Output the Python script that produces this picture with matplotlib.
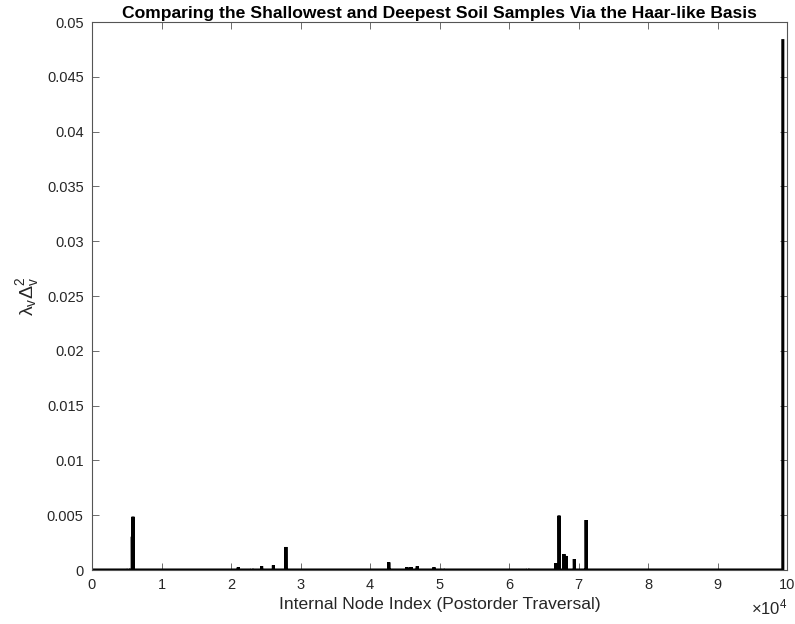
import numpy as np
import matplotlib
matplotlib.use("Agg")
import matplotlib.pyplot as plt
from matplotlib.ticker import FuncFormatter

# Data (node index, lambda_v * Delta_v^2)
n_nodes = 99400
spike_index = [5200, 5800, 5900, 21050, 23000, 24400, 26100, 27900,
               42700, 45300, 45900, 46800, 49200, 50500, 62700,
               66700, 67200, 67900, 68200, 69400, 71100, 99400]
spike_value = [0.0001, 0.00304, 0.00486, 0.00025, 0.0001, 0.00036, 0.00043, 0.0021,
               0.0007, 0.00027, 0.00027, 0.00034, 0.00025, 0.0001, 0.0001,
               0.0006, 0.00496, 0.00146, 0.00128, 0.001, 0.00456, 0.0483]

x_ticks = [0, 10000, 20000, 30000, 40000, 50000, 60000, 70000, 80000, 90000, 100000]
y_ticks = [0, 0.005, 0.01, 0.015, 0.02, 0.025, 0.03, 0.035, 0.04, 0.045, 0.05]

x = np.arange(1, n_nodes + 1)
y = np.zeros(n_nodes)
y[np.array(spike_index) - 1] = spike_value

plt.rcParams['font.family'] = ['Liberation Sans', 'DejaVu Sans']
plt.rcParams['mathtext.fontset'] = 'custom'
plt.rcParams['mathtext.rm'] = 'Liberation Sans'
plt.rcParams['mathtext.it'] = 'Liberation Sans'
plt.rcParams['mathtext.default'] = 'regular'

fig = plt.figure(figsize=(7.95, 6.24), dpi=100)
ax = fig.add_axes([92/795, 54/624, 695/795, 548/624])

ax.plot(x, y, color='black', lw=2.2, solid_joinstyle='miter')

ax.set_xlim(0, 100000)
ax.set_ylim(0, 0.05)
ax.set_xticks(x_ticks)
ax.set_yticks(y_ticks)
ax.xaxis.set_major_formatter(FuncFormatter(lambda v, p: f'{v/1e4:g}'))
ax.yaxis.set_major_formatter(FuncFormatter(lambda v, p: f'{v:g}'))

axis_col = '#262626'
for s in ax.spines.values():
    s.set_color('#555555')
    s.set_linewidth(0.8)
ax.tick_params(direction='in', length=5, width=0.6, colors='#555555',
               labelcolor=axis_col, labelsize=10.5, top=True, right=True, pad=6)

ax.text(1.0, -0.05, '\u00d710$^{4}$', transform=ax.transAxes, ha='right', va='top',
        fontsize=12, color=axis_col)

ax.set_xlabel('Internal Node Index (Postorder Traversal)', fontsize=12.6, color=axis_col, labelpad=3)
ax.set_ylabel(r'$\lambda_v\Delta_v^2$', fontsize=14, color=axis_col, labelpad=4)
ax.set_title('Comparing the Shallowest and Deepest Soil Samples Via the Haar-like Basis',
             fontsize=12.6, fontweight='bold', color='black', pad=3)

fig.savefig('out.png', dpi=100)
